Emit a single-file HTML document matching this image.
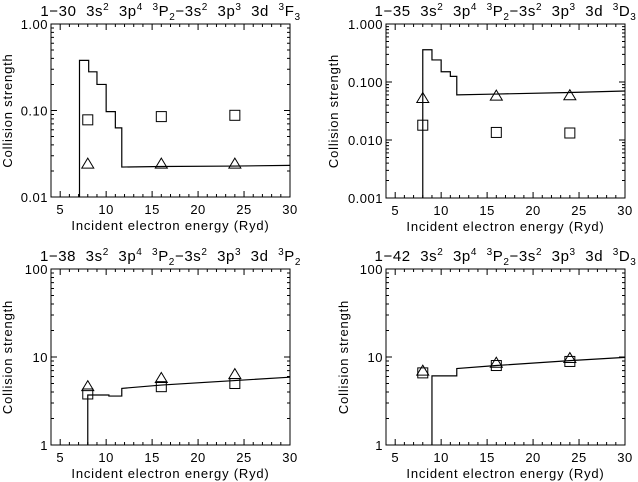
<!DOCTYPE html>
<html><head><meta charset="utf-8"><style>
html,body{margin:0;padding:0;background:#fff;width:638px;height:482px;overflow:hidden}
svg{display:block}
text{font-family:"Liberation Sans","DejaVu Sans",sans-serif;fill:#000}
</style></head><body>
<svg id="fig" width="638" height="482" viewBox="0 0 638 482" xmlns="http://www.w3.org/2000/svg"></svg>
<script>
// ---- data ----
const p1StepX = [7.1, 8.1, 9, 10, 11, 11.7];
const p1StepY = [0.38, 0.28, 0.20, 0.097, 0.063, 0.0222];
const p1TailX = [11.7, 16, 24, 30];
const p1TailY = [0.0222, 0.0225, 0.0228, 0.0232];
const p1PtX = [8, 16, 24];
const p1Squares = [0.078, 0.085, 0.088];
const p1Triangles = [0.024, 0.024, 0.024];

const p2StepX = [8.0, 9, 10, 11, 11.7];
const p2StepY = [0.36, 0.24, 0.15, 0.125, 0.060];
const p2TailX = [11.7, 16, 24, 30];
const p2TailY = [0.060, 0.062, 0.066, 0.070];
const p2PtX = [8, 16, 24];
const p2Squares = [0.018, 0.0135, 0.0132];
const p2Triangles = [0.052, 0.057, 0.058];

const p3StepX = [8.0, 10.3, 11.7];
const p3StepY = [3.7, 3.6, 4.4];
const p3TailX = [11.7, 16, 24, 30];
const p3TailY = [4.4, 4.8, 5.4, 5.9];
const p3PtX = [8, 16, 24];
const p3Squares = [3.8, 4.6, 5.0];
const p3Triangles = [4.6, 5.7, 6.3];

const p4StepX = [9.0, 11.7];
const p4StepY = [6.1, 7.4];
const p4TailX = [11.7, 16, 24, 30];
const p4TailY = [7.4, 8.0, 9.1, 9.9];
const p4PtX = [8, 16, 24];
const p4Squares = [6.6, 8.0, 8.9];
const p4Triangles = [6.9, 8.5, 9.6];

const xTicks = [5, 10, 15, 20, 25, 30];
const p1YTicks = ["0.01", "0.10", "1.00"];
const p2YTicks = ["0.001", "0.010", "0.100", "1.000"];
const p34YTicks = ["1", "10", "100"];

const NS = "http://www.w3.org/2000/svg";
const svg = document.getElementById("fig");
function el(tag, attrs, parent) {
  const e = document.createElementNS(NS, tag);
  for (const k in attrs) e.setAttribute(k, attrs[k]);
  (parent || svg).appendChild(e);
  return e;
}

const panels = [
  {id:"panel-1-30", L:51, R:290, T:24, B:197, ymin:0.01, ymax:1, yt:p1YTicks, yOff:39,
   stepX:p1StepX, stepY:p1StepY, tailX:p1TailX, tailY:p1TailY, ptX:p1PtX, sq:p1Squares, tr:p1Triangles,
   title:["1\u221230  3s","2","  3p","4","  ","3","P","2","\u22123s","2","  3p","3","  3d  ","3","F","3"]},
  {id:"panel-1-35", L:386, R:625, T:24, B:198, ymin:0.001, ymax:1, yt:p2YTicks, yOff:48,
   stepX:p2StepX, stepY:p2StepY, tailX:p2TailX, tailY:p2TailY, ptX:p2PtX, sq:p2Squares, tr:p2Triangles,
   title:["1\u221235  3s","2","  3p","4","  ","3","P","2","\u22123s","2","  3p","3","  3d  ","3","D","3"]},
  {id:"panel-1-38", L:51, R:290, T:269, B:445, ymin:1, ymax:100, yt:p34YTicks, yOff:39,
   stepX:p3StepX, stepY:p3StepY, tailX:p3TailX, tailY:p3TailY, ptX:p3PtX, sq:p3Squares, tr:p3Triangles,
   title:["1\u221238  3s","2","  3p","4","  ","3","P","2","\u22123s","2","  3p","3","  3d  ","3","P","2"]},
  {id:"panel-1-42", L:386, R:625, T:269, B:445, ymin:1, ymax:100, yt:p34YTicks, yOff:38,
   stepX:p4StepX, stepY:p4StepY, tailX:p4TailX, tailY:p4TailY, ptX:p4PtX, sq:p4Squares, tr:p4Triangles,
   title:["1\u221242  3s","2","  3p","4","  ","3","P","2","\u22123s","2","  3p","3","  3d  ","3","D","3"]}
];
const roles = ["n","u","n","u","n","u","n","d","n","u","n","u","n","u","n","d"];

panels.forEach(p => {
  const g = el("g", {});
  
  
  const xS = v => p.L + (v - 4) / 26 * (p.R - p.L);
  const ly0 = Math.log10(p.ymin), ly1 = Math.log10(p.ymax);
  const yS = v => p.B - (Math.log10(v) - ly0) / (ly1 - ly0) * (p.B - p.T);

  const fr = el("rect", {x:p.L, y:p.T, width:p.R-p.L, height:p.B-p.T, fill:"none", stroke:"#000", "stroke-width":1}, g);
  
  

  let tk = "";
  for (let v = 4; v <= 30; v++) {
    const x = xS(v), len = (v % 5 === 0) ? 6 : 3;
    tk += `M${x},${p.B}v${-len}M${x},${p.T}v${len}`;
  }
  for (let d = ly0; d <= ly1; d++) {
    for (let m = 1; m <= 9; m++) {
      const v = Math.pow(10, d) * m;
      if (v > p.ymax * 1.0001) break;
      const y = yS(v), len = m === 1 ? 6 : 3;
      tk += `M${p.L},${y}h${len}M${p.R},${y}h${-len}`;
    }
  }
  const tp = el("path", {d:tk, stroke:"#000", "stroke-width":1, fill:"none"}, g);
  
  

  xTicks.forEach(v => {
    const t = el("text", {x:xS(v), y:p.B+17, "font-size":13, "text-anchor":"middle", "letter-spacing":"0.5"}, g);
    t.textContent = v;
    
    
  });
  p.yt.forEach((s, i) => {
    const t = el("text", {x:p.L-3, y:yS(Math.pow(10, ly0 + i))+5, "font-size":13, "text-anchor":"end", "letter-spacing":"0.5"}, g);
    t.textContent = s;
    
    
  });
  const xt = el("text", {x:(p.L+p.R)/2, y:p.B+33, "font-size":13, "text-anchor":"middle", "letter-spacing":"0.8"}, g);
  xt.textContent = "Incident electron energy (Ryd)";
  
  
  const yx = p.L - p.yOff, yc = (p.T + p.B) / 2;
  const yt = el("text", {x:yx, y:yc, "font-size":13, "text-anchor":"middle", "letter-spacing":"0.8", transform:`rotate(-90 ${yx} ${yc})`}, g);
  yt.textContent = "Collision strength";
  
  

  const tt = el("text", {x:(p.L+p.R)/2, y:p.T-8, "font-size":15, "text-anchor":"middle", "letter-spacing":"0.6", style:"white-space:pre"}, g);
  
  
  p.title.forEach((s, i) => {
    const r = roles[i];
    const ts = el("tspan", {}, tt);
    ts.textContent = s;
    if (r === "u") { ts.setAttribute("font-size", "10"); ts.setAttribute("dy", "-6"); }
    else if (r === "d") { ts.setAttribute("font-size", "10"); ts.setAttribute("dy", "4"); }
    if (i > 0) {
      const pr = roles[i-1];
      if (r === "n" && pr === "u") ts.setAttribute("dy", "6");
      if (r === "n" && pr === "d") ts.setAttribute("dy", "-4");
      if (r === "u" && pr === "d") ts.setAttribute("dy", "-10");
      if (r === "d" && pr === "u") ts.setAttribute("dy", "10");
    }
  });

  let d = `M${xS(p.stepX[0])},${p.B}`;
  for (let i = 0; i < p.stepX.length; i++) {
    d += `L${xS(p.stepX[i])},${yS(p.stepY[i])}`;
    if (i + 1 < p.stepX.length) d += `L${xS(p.stepX[i+1])},${yS(p.stepY[i])}`;
  }
  for (let i = 0; i < p.tailX.length; i++) d += `L${xS(p.tailX[i])},${yS(p.tailY[i])}`;
  const cv = el("path", {d:d, fill:"none", stroke:"#000", "stroke-width":1.2}, g);
  
  

  p.ptX.forEach((xv, i) => {
    const cx = xS(xv), sy = yS(p.sq[i]);
    const s = el("rect", {x:cx-5, y:sy-5, width:10, height:10, fill:"none", stroke:"#000", "stroke-width":1}, g);
    
    
    const ty = yS(p.tr[i]);
    const t = el("path", {d:`M${cx},${ty-6}L${cx+6},${ty+4}L${cx-6},${ty+4}Z`, fill:"none", stroke:"#000", "stroke-width":1}, g);
    
    
  });
});
</script>
</body></html>
